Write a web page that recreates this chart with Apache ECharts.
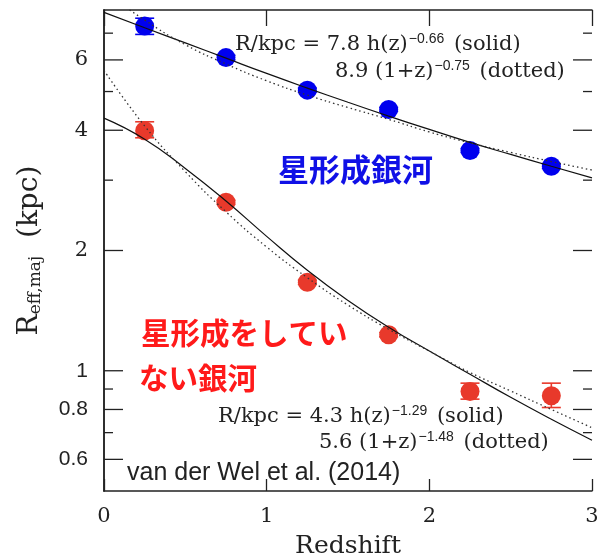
<!DOCTYPE html>
<html><head><meta charset="utf-8">
<script src="https://cdn.jsdelivr.net/npm/echarts@6/dist/echarts.min.js"></script>
<style>html,body{margin:0;padding:0;background:#fff}#c{width:600px;height:558px}</style>
</head><body><div id="c"></div>
<script>
// ---- data ----
const redshift = [0.25, 0.75, 1.25, 1.75, 2.25, 2.75];
const sfRadius  = [7.29, 6.08, 5.04, 4.51, 3.56, 3.25];
const sfErrLow  = [6.95, 6.00, 4.98, 4.46, 3.52, 3.21];
const sfErrHigh = [7.63, 6.16, 5.10, 4.56, 3.60, 3.29];
const qRadius   = [3.99, 2.64, 1.665, 1.231, 0.887, 0.866];
const qErrLow   = [3.83, 2.61, 1.645, 1.216, 0.849, 0.809];
const qErrHigh  = [4.20, 2.67, 1.685, 1.246, 0.931, 0.931];
const fitZ      = [0, 0.25, 0.5, 0.75, 1, 1.25, 1.5, 1.75, 2, 2.25, 2.5, 2.75, 3];
const sfSolid   = [7.89, 7.22, 6.62, 6.06, 5.55, 5.10, 4.70, 4.34, 4.02, 3.73, 3.48, 3.25, 3.04];
const sfDotted  = [8.9, 7.55, 6.55, 5.86, 5.32, 4.90, 4.56, 4.26, 3.96, 3.72, 3.52, 3.34, 3.18];
const qSolid    = [4.29, 3.80, 3.21, 2.66, 2.17, 1.785, 1.50, 1.285, 1.12, 0.98, 0.858, 0.756, 0.67];
const qDotted   = [5.65, 4.10, 3.15, 2.50, 2.04, 1.71, 1.46, 1.27, 1.12, 0.99, 0.89, 0.80, 0.72];
const xTickLabels = [0, 1, 2, 3];
const yMajorTicks = [0.6, 0.8, 1, 2, 4, 6];
const yMinorTicks = [0.7, 0.9, 3, 5, 7];

const BLUE = '#0000ee', RED = '#e8392b', INK = '#222';
const SERIF = 'DejaVu Serif', SANS = 'Liberation Sans', CJK = 'Noto Sans CJK JP';
const X_MIN = 0, X_MAX = 3;

const zip = (xs, ys) => xs.map((x, i) => [x, ys[i]]);
const zip3 = (xs, a, b) => xs.map((x, i) => [x, a[i], b[i]]);

function errRender(color) {
  return function (params, api) {
    const x = api.value(0), lo = api.value(1), hi = api.value(2);
    const p1 = api.coord([x, hi]), p2 = api.coord([x, lo]);
    const w = 9.5;
    const st = { stroke: color, lineWidth: 1.6 };
    return { type: 'group', children: [
      { type: 'line', shape: { x1: p1[0], y1: p1[1], x2: p2[0], y2: p2[1] }, style: st },
      { type: 'line', shape: { x1: p1[0] - w, y1: p1[1], x2: p1[0] + w, y2: p1[1] }, style: st },
      { type: 'line', shape: { x1: p2[0] - w, y1: p2[1], x2: p2[0] + w, y2: p2[1] }, style: st }
    ]};
  };
}
// y-axis ticks on both frame sides, positioned through the log scale
function tickRender(len) {
  return function (params, api) {
    const v = api.value(1);
    const l = api.coord([X_MIN, v]), r = api.coord([X_MAX, v]);
    const st = { stroke: INK, lineWidth: 1.3 };
    return { type: 'group', children: [
      { type: 'line', shape: { x1: l[0], y1: l[1], x2: l[0] + len, y2: l[1] }, style: st },
      { type: 'line', shape: { x1: r[0] - len, y1: r[1], x2: r[0], y2: r[1] }, style: st }
    ]};
  };
}

const axisLineStyle = { color: INK, width: 1.5 };
const tickStyle = { color: INK, width: 1.3 };

const eqRich = {
  t: { fontFamily: SERIF, fontSize: 21, fill: INK },
  s: { fontFamily: SANS, fontSize: 14, fill: INK, padding: [0, 3, 12, 1] }
};
function eqText(x, y, text) {
  return { type: 'text', x: x, y: y, silent: true,
    style: { text: text, rich: eqRich, align: 'left', verticalAlign: 'middle' } };
}

const chart = echarts.init(document.getElementById('c'), null, { renderer: 'canvas' });
chart.setOption({
  animation: false,
  backgroundColor: '#fff',
  grid: { left: 104, top: 10, width: 488, height: 481, containLabel: false, outerBoundsMode: 'none' },
  xAxis: [
    { type: 'value', min: X_MIN, max: X_MAX, interval: 1, position: 'bottom',
      axisLine: { show: true, onZero: false, lineStyle: axisLineStyle },
      axisTick: { show: true, inside: true, length: 12, lineStyle: tickStyle },
      axisLabel: { margin: 15, fontFamily: SERIF, fontSize: 21, color: INK,
        formatter: v => String(xTickLabels[Math.round(v)]) },
      splitLine: { show: false },
      name: 'Redshift', nameLocation: 'middle', nameGap: 43,
      nameTextStyle: { fontFamily: SERIF, fontSize: 25, color: INK } },
    { type: 'value', min: X_MIN, max: X_MAX, interval: 1, position: 'top',
      axisLine: { show: true, onZero: false, lineStyle: axisLineStyle },
      axisTick: { show: true, inside: true, length: 16, lineStyle: tickStyle },
      axisLabel: { show: false }, splitLine: { show: false } }
  ],
  yAxis: [
    { type: 'log', logBase: 10, min: 0.5, max: 8, position: 'left',
      axisLine: { show: true, lineStyle: axisLineStyle },
      axisTick: { show: false },
      axisLabel: { show: true, margin: 16, customValues: yMajorTicks,
        formatter: v => (v >= 2 ? '{s|' + v + '}' : '{h|' + v + '}'),
        rich: { s: { fontFamily: SERIF, fontSize: 21, color: INK },
                h: { fontFamily: SANS, fontSize: 21, color: INK } } },
      splitLine: { show: false },
      name: '{r|R}{b|eff,maj}{r|  (kpc)}', nameLocation: 'middle', nameGap: 60, nameRotate: 90,
      nameTextStyle: { rich: {
        r: { fontFamily: SERIF, fontSize: 28, color: INK },
        b: { fontFamily: SERIF, fontSize: 17, color: INK, padding: [12, 0, 0, 0] } } } },
    { type: 'log', logBase: 10, min: 0.5, max: 8, position: 'right',
      axisLine: { show: true, lineStyle: axisLineStyle },
      axisTick: { show: false }, axisLabel: { show: false }, splitLine: { show: false } }
  ],
  series: [
    { type: 'custom', name: 'yMajorTicks', renderItem: tickRender(19),
      data: yMajorTicks.map(v => [X_MIN, v]), encode: { x: 0, y: 1 }, z: 5, silent: true, clip: false },
    { type: 'custom', name: 'yMinorTicks', renderItem: tickRender(9),
      data: yMinorTicks.map(v => [X_MIN, v]), encode: { x: 0, y: 1 }, z: 5, silent: true, clip: false },
    { type: 'custom', name: 'sfErr', renderItem: errRender(BLUE), data: zip3(redshift, sfErrLow, sfErrHigh),
      encode: { x: 0, y: [1, 2] }, z: 2, silent: true },
    { type: 'custom', name: 'qErr', renderItem: errRender(RED), data: zip3(redshift, qErrLow, qErrHigh),
      encode: { x: 0, y: [1, 2] }, z: 2, silent: true },
    { type: 'scatter', name: 'star-forming', data: zip(redshift, sfRadius), symbol: 'circle', symbolSize: 19,
      itemStyle: { color: BLUE, opacity: 1 }, z: 3, silent: true },
    { type: 'scatter', name: 'quiescent', data: zip(redshift, qRadius), symbol: 'circle', symbolSize: 19,
      itemStyle: { color: RED, opacity: 1 }, z: 3, silent: true },
    { type: 'line', name: 'sfSolid', data: zip(fitZ, sfSolid), smooth: 0.5, showSymbol: false, symbol: 'none',
      lineStyle: { color: '#111', width: 1.2 }, z: 4, silent: true, clip: true },
    { type: 'line', name: 'sfDotted', data: zip(fitZ, sfDotted), smooth: 0.5, showSymbol: false, symbol: 'none',
      lineStyle: { color: '#333', width: 1.3, type: [1.5, 3] }, z: 4, silent: true, clip: true },
    { type: 'line', name: 'qSolid', data: zip(fitZ, qSolid), smooth: 0.5, showSymbol: false, symbol: 'none',
      lineStyle: { color: '#111', width: 1.2 }, z: 4, silent: true, clip: true },
    { type: 'line', name: 'qDotted', data: zip(fitZ, qDotted), smooth: 0.5, showSymbol: false, symbol: 'none',
      lineStyle: { color: '#333', width: 1.3, type: [1.5, 3] }, z: 4, silent: true, clip: true }
  ],
  graphic: [
    eqText(235, 45, '{t|R/kpc = 7.8 h(z)}{s|−0.66}{t| (solid)}'),
    eqText(335, 72, '{t|8.9 (1+z)}{s|−0.75}{t| (dotted)}'),
    eqText(218, 417, '{t|R/kpc = 4.3 h(z)}{s|−1.29}{t| (solid)}'),
    eqText(319, 443, '{t|5.6 (1+z)}{s|−1.48}{t| (dotted)}'),
    { type: 'text', x: 127, y: 473, silent: true,
      style: { text: 'van der Wel et al. (2014)', fontFamily: SANS, fontSize: 25, fill: INK,
               align: 'left', verticalAlign: 'middle' } },
    { type: 'text', x: 278, y: 169, silent: true,
      style: { text: '星形成銀河', fontFamily: CJK, fontWeight: 'bold', fontSize: 31, fill: '#1010e6',
               align: 'left', verticalAlign: 'middle' } },
    { type: 'text', x: 141, y: 333, silent: true,
      style: { text: '星形成をしてい', fontFamily: CJK, fontWeight: 'bold', fontSize: 29.5, fill: '#ff1a1a',
               align: 'left', verticalAlign: 'middle' } },
    { type: 'text', x: 139, y: 378, silent: true,
      style: { text: 'ない銀河', fontFamily: CJK, fontWeight: 'bold', fontSize: 29.5, fill: '#ff1a1a',
               align: 'left', verticalAlign: 'middle' } }
  ]
});
</script></body></html>
